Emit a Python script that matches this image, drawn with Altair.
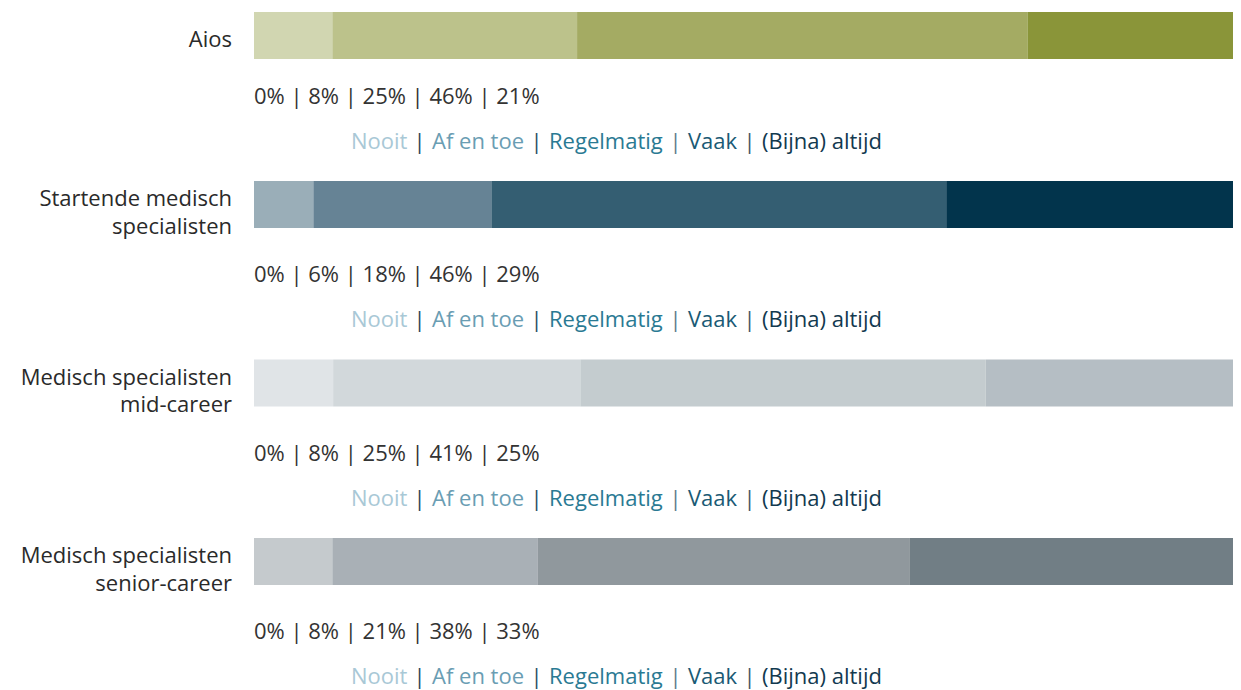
import altair as alt
import pandas as pd

# ---- data ----
groups = [
    "Aios",
    "Startende medisch specialisten",
    "Medisch specialisten mid-career",
    "Medisch specialisten senior-career",
]
group_labels = [
    "Aios",
    "Startende medisch\nspecialisten",
    "Medisch specialisten\nmid-career",
    "Medisch specialisten\nsenior-career",
]
categories = ["Nooit", "Af en toe", "Regelmatig", "Vaak", "(Bijna) altijd"]
aios = [0, 8, 25, 46, 21]
startend = [0, 6, 18, 46, 29]
mid_career = [0, 8, 25, 41, 25]
senior_career = [0, 8, 21, 38, 33]
values = [aios, startend, mid_career, senior_career]

# ---- styles ----
palettes = [
    ["#e2e5cd", "#d1d6b1", "#bcc28b", "#a4ab63", "#8a9539"],
    ["#c2cfd6", "#9aaeb8", "#668395", "#345e72", "#02344c"],
    ["#eef0f2", "#e0e4e7", "#d2d8db", "#c4cccf", "#b5bec4"],
    ["#dfe2e4", "#c5cacd", "#a9b0b6", "#90989d", "#717e85"],
]
legend_words = ["Nooit", "|", "Af en toe", "|", "Regelmatig", "|", "Vaak", "|", "(Bijna) altijd"]
legend_colors = ["#a9c8d6", "#1f4a60", "#6a9db3", "#2a5168", "#2a7a93",
                 "#5d7d8e", "#1a5a75", "#3e5a6a", "#12394f"]
legend_x = [97, 165.5, 178, 282.5, 295, 421.5, 434, 495.5, 508]
legend_align = ["left", "center", "left", "center", "left", "center", "left", "center", "left"]

FONT = "Open Sans"
FS = 22

rows = []
keys, colors = [], []
for gi, g in enumerate(groups):
    for ci, c in enumerate(categories):
        key = f"{g}|{c}"
        keys.append(key)
        colors.append(palettes[gi][ci])
        rows.append({"group": g, "category": c, "value": values[gi][ci], "order": ci, "key": key})
df = pd.DataFrame(rows)

label_df = pd.DataFrame({"group": groups, "label": group_labels})
pct_df = pd.DataFrame({
    "group": groups,
    "text": [" | ".join(f"{v}%" for v in vals) for vals in values],
})

step = 178.5
bar_h = 47
pad_inner = 1 - bar_h / step
height = step * (4 - pad_inner)

y_enc = alt.Y("group:N", sort=groups, axis=None,
              scale=alt.Scale(paddingInner=pad_inner, paddingOuter=0))

def bars(data, y_off):
    return alt.Chart(data).mark_bar(yOffset=y_off, y2Offset=y_off).encode(
        x=alt.X("value:Q", stack="normalize", axis=None,
                scale=alt.Scale(domain=[0, 1], nice=False)),
        y=y_enc,
        color=alt.Color("key:N", scale=alt.Scale(domain=keys, range=colors), legend=None),
        order=alt.Order("order:Q"),
    )

bars_first = bars(df[df.group == groups[0]], 0)
bars_rest = bars(df[df.group != groups[0]], -9.5)

labels_first = alt.Chart(label_df[label_df.group == groups[0]]).mark_text(
    align="right", baseline="alphabetic", font=FONT, fontSize=FS,
    color="#2a2a2a", dy=11.5,
).encode(x=alt.value(-22), y=y_enc, text="label:N")

labels_rest = alt.Chart(label_df[label_df.group != groups[0]]).mark_text(
    align="right", baseline="alphabetic", lineBreak="\n", lineHeight=27.5,
    font=FONT, fontSize=FS, color="#2a2a2a", dy=-8,
).encode(x=alt.value(-22), y=y_enc, text="label:N")

pct = alt.Chart(pct_df).mark_text(
    align="left", baseline="alphabetic", font=FONT, fontSize=FS,
    color="#333333", dy=68,
).encode(x=alt.value(0), y=y_enc, text="text:N")

legend_layers = []
for w, c, xp, al in zip(legend_words, legend_colors, legend_x, legend_align):
    legend_layers.append(
        alt.Chart(label_df).mark_text(
            align=al, baseline="alphabetic", font=FONT, fontSize=FS,
            color=c, dy=113,
        ).encode(x=alt.value(xp), y=y_enc, text=alt.value(w))
    )

chart = alt.layer(bars_first, bars_rest, labels_first, labels_rest, pct, *legend_layers).properties(
    width=979, height=height,
    padding={"left": 246, "top": 4, "right": 0, "bottom": 110},
    autosize=alt.AutoSizeParams(type="none"),
).configure_view(stroke=None)

chart.save("out.html", embed_options={"renderer": "svg", "actions": False})
